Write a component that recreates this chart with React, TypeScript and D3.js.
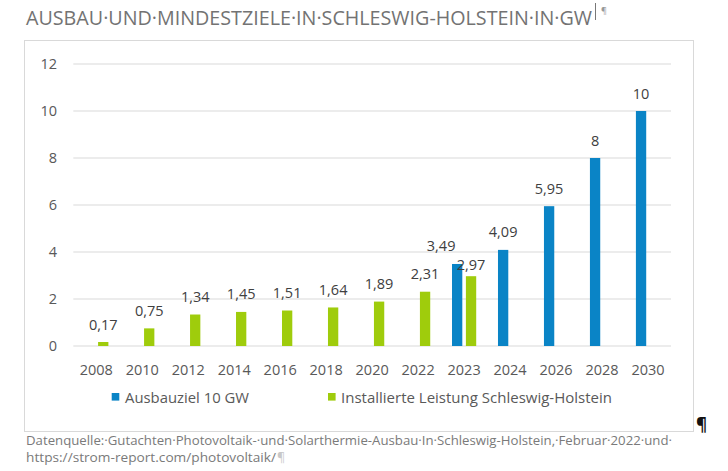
import React from "react";
import * as d3 from "d3";

const years = ["2008", "2010", "2012", "2014", "2016", "2018", "2020", "2022", "2023", "2024", "2026", "2028", "2030"];
const ausbauziel: (number | null)[] = [null, null, null, null, null, null, null, null, 3.49, 4.09, 5.95, 8, 10];
const installiert: (number | null)[] = [0.17, 0.75, 1.34, 1.45, 1.51, 1.64, 1.89, 2.31, 2.97, null, null, null, null];
const yTicks = [0, 2, 4, 6, 8, 10, 12];
const seriesNames = ["Ausbauziel 10 GW", "Installierte Leistung Schleswig-Holstein"];

const title = "AUSBAU·UND·MINDESTZIELE·IN·SCHLESWIG-HOLSTEIN·IN·GW";
const source1 = "Datenquelle:·Gutachten·Photovoltaik-·und·Solarthermie-Ausbau·In·Schleswig-Holstein,·Februar·2022·und·";
const source2 = "https://strom-report.com/photovoltaik/";

const BLUE = "#0a84c6";
const GREEN = "#9fcc0c";
const FONT = "'Open Sans', 'Noto Sans', sans-serif";

const fmt = (v: number) => String(v).replace(".", ",");

const App: React.FC = () => {
  const width = 728;
  const height = 471;

  const x = d3.scaleBand<string>().domain(years).range([73.3, 671]).padding(0);
  const y = d3.scaleLinear().domain([0, 12]).range([346, 64]);

  const barW = 10.3;
  const halfGap = 1.8;
  const cx = (yr: string) => x(yr)! + x.bandwidth() / 2;

  return (
    <svg width={width} height={height} style={{ position: "absolute", left: 0, top: 0 }}>
      <rect width={width} height={height} fill="#fff" />

      {/* title */}
      <text x={26} y={25} fontFamily={FONT} fontSize={20} fill="#737373" textLength={566} lengthAdjust="spacingAndGlyphs">
        {title}
      </text>
      <line x1={595.5} x2={595.5} y1={3} y2={20} stroke="#555" strokeWidth={0.8} />
      <text x={601} y={14} fontFamily={FONT} fontSize={9} fill="#999">¶</text>

      {/* chart frame */}
      <rect x={24.5} y={40.5} width={669} height={391} fill="#fff" stroke="#d9d9d9" />

      {/* grid + y labels */}
      {yTicks.map((t) => (
        <g key={t}>
          <line x1={73.3} x2={671} y1={y(t)} y2={y(t)} stroke="#d9d9d9" strokeWidth={1} />
          <text x={57} y={y(t)} dy="0.35em" textAnchor="end" fontFamily={FONT} fontSize={14.5} fill="#595959">
            {t}
          </text>
        </g>
      ))}

      {/* x labels */}
      {years.map((yr) => (
        <text key={yr} x={cx(yr)} y={375} textAnchor="middle" fontFamily={FONT} fontSize={14.5} fill="#595959">
          {yr}
        </text>
      ))}

      {/* bars: Ausbauziel */}
      {years.map((yr, i) => {
        const v = ausbauziel[i];
        if (v == null) return null;
        const bx = cx(yr) - halfGap - barW;
        // manual label offset where the two labels would collide
        const dx = installiert[i] != null ? -16 : 0;
        return (
          <g key={"a" + yr}>
            <rect x={bx} y={y(v)} width={barW} height={y(0) - y(v)} fill={BLUE} />
            <text x={bx + barW / 2 + dx} y={y(v) - 12.5} textAnchor="middle" fontFamily={FONT} fontSize={14.5} fill="#404040">
              {fmt(v)}
            </text>
          </g>
        );
      })}

      {/* bars: Installierte Leistung */}
      {years.map((yr, i) => {
        const v = installiert[i];
        if (v == null) return null;
        const bx = cx(yr) + halfGap;
        const dy = ausbauziel[i] != null ? 6 : 12.5;
        return (
          <g key={"i" + yr}>
            <rect x={bx} y={y(v)} width={barW} height={y(0) - y(v)} fill={GREEN} />
            <text x={bx + barW / 2} y={y(v) - dy} textAnchor="middle" fontFamily={FONT} fontSize={14.5} fill="#404040">
              {fmt(v)}
            </text>
          </g>
        );
      })}

      {/* legend */}
      <rect x={111.7} y={393} width={7.6} height={7.6} fill={BLUE} />
      <text x={125} y={402.5} fontFamily={FONT} fontSize={14.5} fill="#595959" textLength={124} lengthAdjust="spacingAndGlyphs">
        {seriesNames[0]}
      </text>
      <rect x={328} y={393} width={7.6} height={7.6} fill={GREEN} />
      <text x={341} y={402.5} fontFamily={FONT} fontSize={14.5} fill="#595959" textLength={271} lengthAdjust="spacingAndGlyphs">
        {seriesNames[1]}
      </text>

      {/* paragraph mark */}
      <text x={696} y={431} fontFamily={FONT} fontSize={17} fontWeight="bold" fill="#111">¶</text>

      {/* source */}
      <text x={26} y={445} fontFamily={FONT} fontSize={12.5} fill="#7a7a7a" textLength={646} lengthAdjust="spacingAndGlyphs">
        {source1}
      </text>
      <text x={26} y={461.5} fontFamily={FONT} fontSize={12.5} fill="#7a7a7a" textLength={250} lengthAdjust="spacingAndGlyphs">
        {source2}
      </text>
      <text x={277} y={461.5} fontFamily={FONT} fontSize={12.5} fill="#c8c8c8">¶</text>
    </svg>
  );
};

export default App;
